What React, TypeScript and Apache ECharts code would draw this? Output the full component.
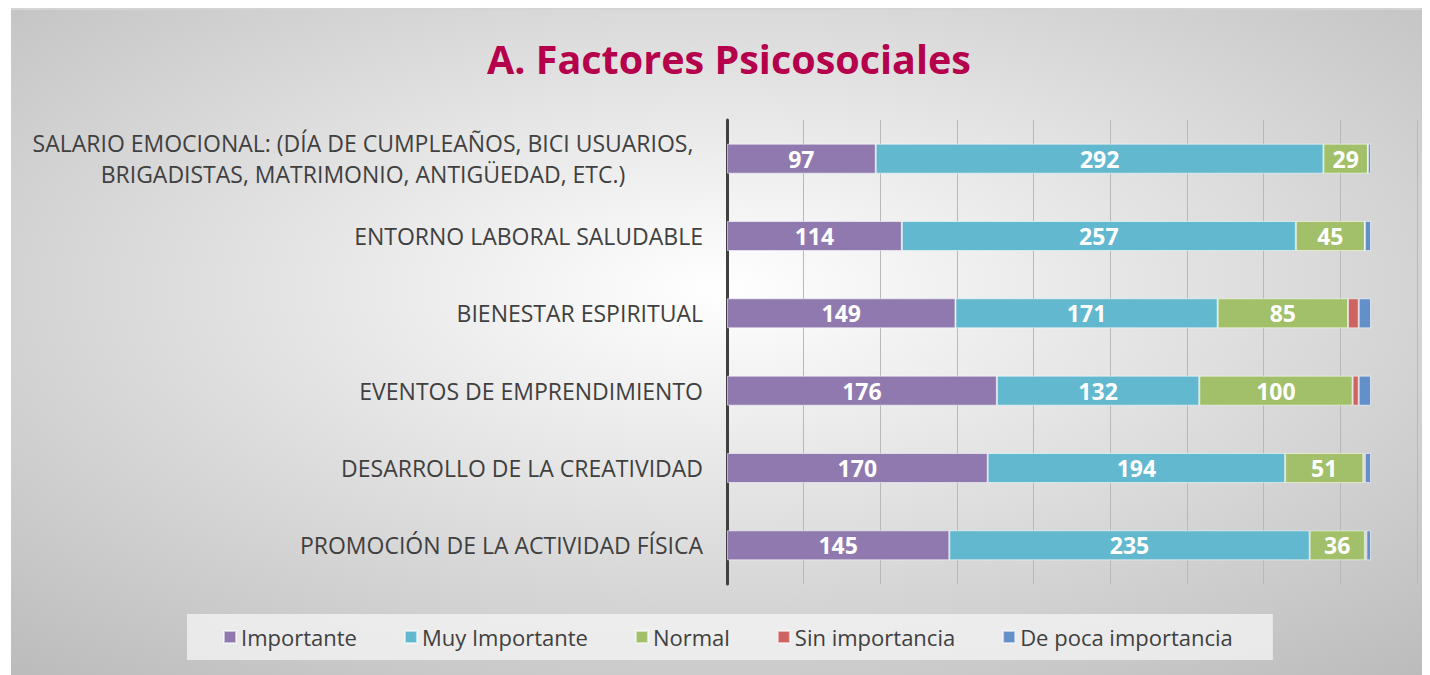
import React, { useEffect, useRef } from "react";
import * as echarts from "echarts";

const categories = [
  "SALARIO EMOCIONAL: (DÍA DE CUMPLEAÑOS, BICI USUARIOS,\nBRIGADISTAS, MATRIMONIO, ANTIGÜEDAD, ETC.)",
  "ENTORNO LABORAL SALUDABLE",
  "BIENESTAR ESPIRITUAL",
  "EVENTOS DE EMPRENDIMIENTO",
  "DESARROLLO DE LA CREATIVIDAD",
  "PROMOCIÓN DE LA ACTIVIDAD FÍSICA",
];

const importante = [97, 114, 149, 176, 170, 145];
const muyImportante = [292, 257, 171, 132, 194, 235];
const normal = [29, 45, 85, 100, 51, 36];
const sinImportancia = [0, 0, 7, 4, 1, 1];
const dePocaImportancia = [2, 4, 8, 8, 4, 3];

const seriesNames = ["Importante", "Muy Importante", "Normal", "Sin importancia", "De poca importancia"];
const seriesData = [importante, muyImportante, normal, sinImportancia, dePocaImportancia];
const seriesColors = ["#8F79AF", "#62B9CF", "#A2C06A", "#CE6462", "#6490CA"];
const showLabels = [true, true, true, false, false];

const FONT = "'Open Sans', 'Noto Sans', sans-serif";

export default function App() {
  const ref = useRef<HTMLDivElement>(null);
  useEffect(() => {
    if (!ref.current) return;
    const chart = echarts.init(ref.current, undefined, { renderer: "svg" });
    chart.setOption({
      animation: false,
      backgroundColor: {
        type: "radial",
        x: 0.5,
        y: 0.42,
        r: 0.8,
        colorStops: [
          { offset: 0, color: "#ffffff" },
          { offset: 1, color: "#b8b8b8" },
        ],
      },
      textStyle: { fontFamily: FONT },
      title: {
        text: "A. Factores Psicosociales",
        left: 471,
        top: 24,
        textStyle: { color: "#B5004B", fontSize: 39.5, fontWeight: "bold", fontFamily: FONT },
      },
      legend: {
        bottom: 15,
        left: 176,
        width: 1090,
        padding: [12, 40, 12, 36],
        backgroundColor: "rgba(245,245,245,0.75)",
        itemWidth: 12,
        itemHeight: 12,
        itemGap: 47,
        icon: "rect",
        textStyle: { color: "#404040", fontSize: 22, fontFamily: FONT },
        data: seriesNames,
      },
      grid: { left: 716, top: 110, width: 690, height: 464, containLabel: false },
      xAxis: {
        type: "value",
        min: 0,
        max: 450,
        interval: 50,
        axisLabel: { show: false },
        axisLine: { show: false },
        axisTick: { show: false },
        splitLine: { show: true, lineStyle: { color: "#b8b8b8", width: 1 } },
      },
      yAxis: {
        type: "category",
        inverse: true,
        data: categories,
        axisLine: { show: true, lineStyle: { color: "#404040", width: 3 } },
        axisTick: { show: false },
        axisLabel: {
          margin: 24,
          color: "#404040",
          fontSize: 23,
          fontFamily: FONT,
          formatter: (v: string) => (v.includes("\n") ? `{c|${v}}` : v),
          rich: {
            c: { width: 680, align: "center", fontSize: 23, lineHeight: 31, color: "#404040", fontFamily: FONT },
          },
        },
      },
      series: seriesNames.map((name, i) => ({
        name,
        type: "bar",
        stack: "total",
        barWidth: 30,
        data: seriesData[i],
        itemStyle: {
          color: seriesColors[i],
          borderColor: "rgba(255,255,255,0.55)",
          borderWidth: 1,
        },
        label: {
          show: showLabels[i],
          position: "inside",
          color: "#ffffff",
          fontSize: 23,
          fontWeight: "bold",
          fontFamily: FONT,
        },
      })),
    });
    return () => chart.dispose();
  }, []);
  return (
    <div style={{ width: 1430, height: 675 }}>
      <div
        ref={ref}
        style={{ marginLeft: 3, width: 1419, height: 667, borderTop: "2px solid #d4d4d4", boxSizing: "border-box" }}
      />
    </div>
  );
}
